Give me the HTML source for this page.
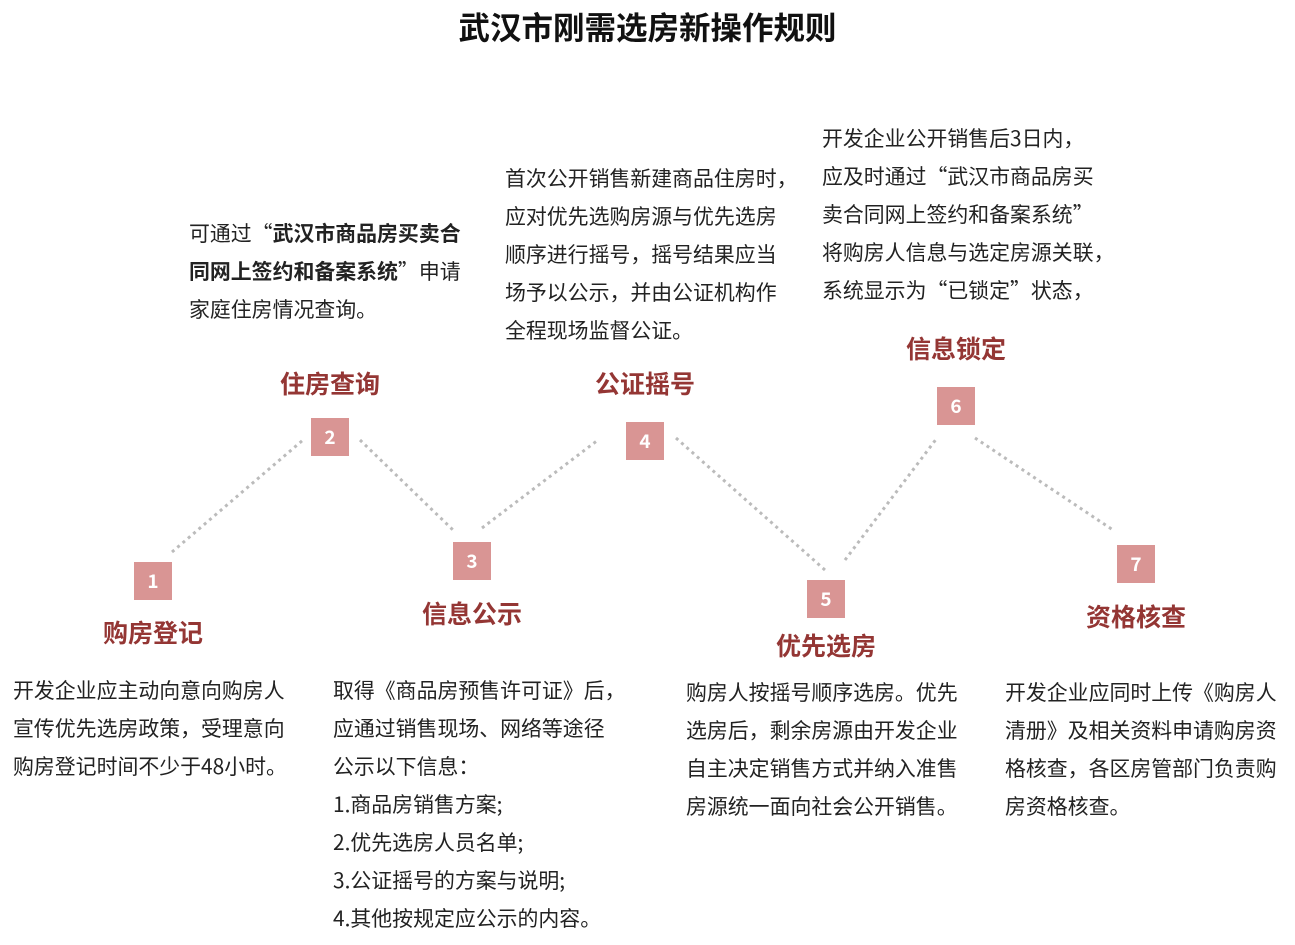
<!DOCTYPE html>
<html><head><meta charset="utf-8"><style>
body{margin:0;width:1295px;height:945px;background:#fff;position:relative;font-family:"Noto Sans CJK SC","Liberation Sans",sans-serif;color:#222;overflow:hidden}
.t{position:absolute;font-size:20.9px;line-height:38px;white-space:nowrap}
.b{position:absolute;width:38px;height:38px;background:#d99594;color:#fff;font-weight:bold;font-size:19px;text-align:center;line-height:38px}
.l{position:absolute;color:#943634;font-weight:bold;font-size:25px;line-height:34px;white-space:nowrap;transform:translateX(-50%)}
</style></head><body>
<div style="position:absolute;left:0;width:1295px;top:5px;text-align:center;font-size:31.5px;line-height:42px;font-weight:bold;color:#111">武汉市刚需选房新操作规则</div>
<svg width="1295" height="945" style="position:absolute;left:0;top:0">
<g stroke="#bbb" stroke-width="3" stroke-dasharray="3 4" fill="none">
<line x1="172" y1="552" x2="303" y2="440"/>
<line x1="360" y1="440" x2="453" y2="530"/>
<line x1="482" y1="528" x2="598" y2="440"/>
<line x1="676" y1="438" x2="825" y2="570"/>
<line x1="845" y1="560" x2="937" y2="438"/>
<line x1="975" y1="438" x2="1113" y2="530"/>
</g></svg>
<div class="b" style="left:134px;top:562px">1</div>
<div class="b" style="left:311px;top:418px">2</div>
<div class="b" style="left:453px;top:542px">3</div>
<div class="b" style="left:626px;top:422px">4</div>
<div class="b" style="left:807px;top:580px">5</div>
<div class="b" style="left:937px;top:387px">6</div>
<div class="b" style="left:1117px;top:545px">7</div>
<div class="l" style="left:153px;top:615px">购房登记</div>
<div class="l" style="left:330px;top:366px">住房查询</div>
<div class="l" style="left:472px;top:596px">信息公示</div>
<div class="l" style="left:645px;top:366px">公证摇号</div>
<div class="l" style="left:826px;top:628px">优先选房</div>
<div class="l" style="left:956px;top:331px">信息锁定</div>
<div class="l" style="left:1136px;top:599px">资格核查</div>
<div class="t" style="left:189px;top:214px">可通过“<b>武汉市商品房买卖合</b><br><b>同网上签约和备案系统</b>”申请<br>家庭住房情况查询。</div>
<div class="t" style="left:505px;top:159px">首次公开销售新建商品住房时，<br>应对优先选购房源与优先选房<br>顺序进行摇号，摇号结果应当<br>场予以公示，并由公证机构作<br>全程现场监督公证。</div>
<div class="t" style="left:822px;top:119px">开发企业公开销售后3日内，<br>应及时通过“武汉市商品房买<br>卖合同网上签约和备案系统”<br>将购房人信息与选定房源关联，<br>系统显示为“已锁定”状态，</div>
<div class="t" style="left:13px;top:671px">开发企业应主动向意向购房人<br>宣传优先选房政策，受理意向<br>购房登记时间不少于48小时。</div>
<div class="t" style="left:333px;top:671px">取得《商品房预售许可证》后，<br>应通过销售现场、网络等途径<br>公示以下信息：<br>1.商品房销售方案;<br>2.优先选房人员名单;<br>3.公证摇号的方案与说明;<br>4.其他按规定应公示的内容。</div>
<div class="t" style="left:686px;top:673px">购房人按摇号顺序选房。优先<br>选房后，剩余房源由开发企业<br>自主决定销售方式并纳入准售<br>房源统一面向社会公开销售。</div>
<div class="t" style="left:1005px;top:673px">开发企业应同时上传《购房人<br>清册》及相关资料申请购房资<br>格核查，各区房管部门负责购<br>房资格核查。</div>
</body></html>
